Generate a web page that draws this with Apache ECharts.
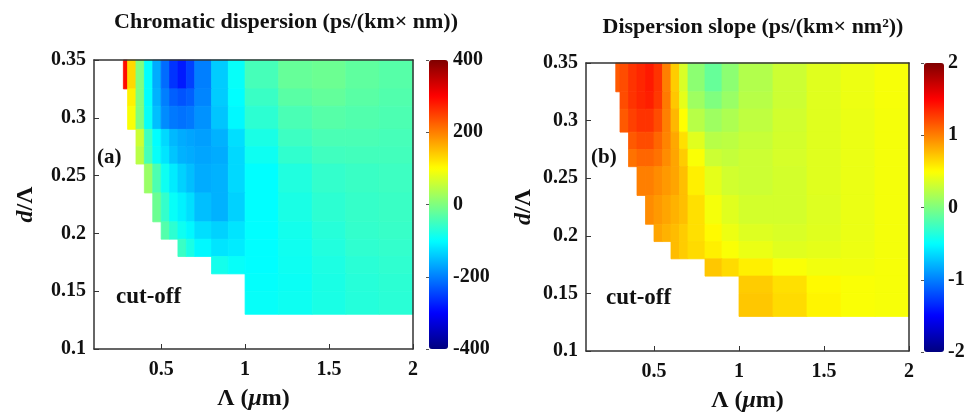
<!DOCTYPE html>
<html>
<head>
<meta charset="utf-8">
<script src="https://cdn.jsdelivr.net/npm/echarts@6/dist/echarts.min.js"></script>
<style>
  html, body { margin: 0; padding: 0; background: #fff; }
  #main { width: 974px; height: 418px; }
</style>
</head>
<body>
<div id="main"></div>
<script>
// cell edges: Λ (µm) across, d/Λ down (top row first)
var lamEdges = [0.275, 0.3, 0.35, 0.4, 0.45, 0.5, 0.55, 0.6, 0.65, 0.7, 0.8, 0.9, 1.0, 1.2, 1.4, 1.6, 1.8, 2.0];
var dEdges = [0.35, 0.325, 0.31, 0.29, 0.275, 0.26, 0.235, 0.21, 0.195, 0.18, 0.165, 0.15, 0.13];
var xTicks = [0.5, 1, 1.5, 2];
var _ = null; // cut-off cell

// chromatic dispersion, ps/(km nm)
var dispersion = [
  [290, 130, 0, -100, -165, -215, -260, -280, -250, -200, -140, -95, -45, -20, -15, -25, -32],
  [_, 110, 0, -100, -160, -200, -225, -235, -225, -195, -140, -100, -55, -30, -22, -30, -36],
  [_, 95, 0, -95, -150, -190, -205, -210, -205, -185, -145, -105, -65, -42, -32, -36, -40],
  [_, _, 60, -50, -100, -130, -155, -165, -170, -175, -160, -125, -80, -52, -42, -42, -45],
  [_, _, 45, -45, -95, -120, -145, -160, -165, -170, -165, -130, -90, -62, -50, -48, -48],
  [_, _, _, 20, -40, -90, -115, -135, -150, -165, -160, -130, -100, -75, -60, -55, -52],
  [_, _, _, _, -15, -60, -95, -110, -125, -150, -160, -135, -100, -80, -65, -58, -55],
  [_, _, _, _, _, -35, -65, -90, -105, -125, -135, -120, -100, -85, -70, -60, -57],
  [_, _, _, _, _, _, _, -55, -80, -105, -120, -115, -100, -88, -74, -63, -60],
  [_, _, _, _, _, _, _, _, _, _, -85, -95, -100, -90, -78, -68, -63],
  [_, _, _, _, _, _, _, _, _, _, _, _, -98, -92, -80, -70, -66],
  [_, _, _, _, _, _, _, _, _, _, _, _, -95, -90, -80, -72, -68]
];

// dispersion slope, ps/(km nm^2)
var slope = [
  [1.15, 1.2, 1.3, 1.35, 1.4, 1.3, 1.0, 0.7, 0.35, 0.05, -0.1, 0.05, 0.2, 0.3, 0.38, 0.43, 0.47],
  [_, 1.2, 1.3, 1.35, 1.38, 1.28, 1.02, 0.72, 0.4, 0.12, 0.0, 0.1, 0.22, 0.3, 0.38, 0.43, 0.47],
  [_, 1.15, 1.25, 1.3, 1.3, 1.2, 1.0, 0.78, 0.5, 0.22, 0.12, 0.18, 0.25, 0.32, 0.38, 0.42, 0.46],
  [_, _, 1.15, 1.2, 1.2, 1.1, 0.98, 0.84, 0.62, 0.38, 0.22, 0.24, 0.28, 0.33, 0.38, 0.42, 0.46],
  [_, _, 1.05, 1.1, 1.1, 1.05, 0.95, 0.85, 0.7, 0.48, 0.3, 0.27, 0.3, 0.34, 0.38, 0.42, 0.46],
  [_, _, _, 1.0, 1.0, 0.95, 0.9, 0.85, 0.75, 0.56, 0.4, 0.32, 0.3, 0.33, 0.38, 0.42, 0.46],
  [_, _, _, _, 0.95, 0.9, 0.85, 0.8, 0.75, 0.62, 0.46, 0.38, 0.33, 0.33, 0.37, 0.42, 0.46],
  [_, _, _, _, _, 0.85, 0.8, 0.76, 0.7, 0.62, 0.52, 0.43, 0.37, 0.35, 0.38, 0.42, 0.46],
  [_, _, _, _, _, _, _, 0.76, 0.7, 0.64, 0.56, 0.48, 0.42, 0.38, 0.4, 0.43, 0.46],
  [_, _, _, _, _, _, _, _, _, _, 0.72, 0.64, 0.56, 0.48, 0.45, 0.45, 0.47],
  [_, _, _, _, _, _, _, _, _, _, _, _, 0.7, 0.62, 0.52, 0.48, 0.47],
  [_, _, _, _, _, _, _, _, _, _, _, _, 0.72, 0.64, 0.54, 0.48, 0.47]
];

var jet = ['#00007f', '#0000ff', '#007fff', '#00ffff', '#7fff7f', '#ffff00', '#ff7f00', '#ff0000', '#7f0000'];
var fontFam = 'Liberation Serif';
var ink = '#111';

function buildCells(rows) {
  var cells = [];
  rows.forEach(function (row, j) {
    row.forEach(function (v, i) {
      if (v === null) return;
      cells.push([lamEdges[i], lamEdges[i + 1], dEdges[j + 1], dEdges[j], v]);
    });
  });
  return cells;
}

function renderCell(params, api) {
  var p0 = api.coord([api.value(0), api.value(3)]);
  var p1 = api.coord([api.value(1), api.value(2)]);
  var color = api.visual('color');
  return {
    type: 'rect',
    shape: { x: p0[0], y: p0[1], width: p1[0] - p0[0], height: p1[1] - p0[1] },
    style: { fill: color, stroke: color, lineWidth: 0.8 }
  };
}

function tickFont(size) {
  return { color: ink, fontFamily: fontFam, fontWeight: 'bold', fontSize: size };
}

var axisLine = { show: true, lineStyle: { color: '#333', width: 1.5 } };
var nameRich = {
  t: tickFont(24),
  i: { color: ink, fontFamily: fontFam, fontWeight: 'bold', fontStyle: 'italic', fontSize: 24 }
};

function bottomAxis(g) {
  return {
    gridIndex: g, type: 'value', min: 0.1, max: 2, z: 5,
    name: '{t|Λ (}{i|μ}{t|m)}', nameLocation: 'middle', nameGap: 38,
    nameTextStyle: { rich: nameRich },
    axisLine: axisLine,
    axisTick: { show: true, inside: true, length: 5, customValues: xTicks, lineStyle: { color: '#333' } },
    axisLabel: Object.assign({ margin: 11, customValues: xTicks }, tickFont(20)),
    splitLine: { show: false }
  };
}

function topAxis(g) {
  return {
    gridIndex: g, type: 'value', position: 'top', min: 0.1, max: 2, z: 5,
    axisLine: axisLine, axisTick: { show: false }, axisLabel: { show: false }, splitLine: { show: false }
  };
}

function leftAxis(g, gap) {
  return {
    gridIndex: g, type: 'value', min: 0.1, max: 0.35, interval: 0.05, z: 5,
    name: '{i|d}{t|/Λ}', nameLocation: 'middle', nameGap: gap, nameRotate: 90,
    nameTextStyle: { rich: nameRich },
    axisLine: axisLine,
    axisTick: { show: true, inside: true, length: 5, lineStyle: { color: '#333' } },
    axisLabel: Object.assign({ margin: 8 }, tickFont(20)),
    splitLine: { show: false }
  };
}

function rightAxis(g) {
  return {
    gridIndex: g, type: 'value', position: 'right', min: 0.1, max: 0.35, z: 5,
    axisLine: axisLine, axisTick: { show: false }, axisLabel: { show: false }, splitLine: { show: false }
  };
}

function barAxis(g, lo, hi, step, margin) {
  return {
    gridIndex: g, type: 'value', position: 'right', min: lo, max: hi, interval: step, z: 5,
    axisLine: { show: false },
    axisTick: { show: true, inside: true, length: 3, lineStyle: { color: '#555' } },
    axisLabel: Object.assign({ margin: margin }, tickFont(20)),
    splitLine: { show: false }
  };
}

var chart = echarts.init(document.getElementById('main'));
var option = {
  animation: false,
  backgroundColor: '#fff',
  grid: [
    { left: 94, top: 60, width: 319, height: 289 },
    { left: 586, top: 63, width: 323, height: 289 },
    { left: 429, top: 60, width: 19, height: 289 },
    { left: 924, top: 63, width: 20, height: 289 }
  ],
  xAxis: [
    bottomAxis(0), bottomAxis(1), topAxis(0), topAxis(1),
    { gridIndex: 2, type: 'value', show: false },
    { gridIndex: 3, type: 'value', show: false }
  ],
  yAxis: [
    leftAxis(0, 56), leftAxis(1, 50), rightAxis(0), rightAxis(1),
    barAxis(2, -400, 400, 200, 5),
    barAxis(3, -2, 2, 1, 4)
  ],
  visualMap: [
    {
      type: 'continuous', seriesIndex: 0, dimension: 4, min: -400, max: 400,
      left: 429, top: 60, itemWidth: 19, itemHeight: 289, padding: 0,
      calculable: false, hoverLink: false, inRange: { color: jet }
    },
    {
      type: 'continuous', seriesIndex: 1, dimension: 4, min: -2, max: 2,
      left: 924, top: 63, itemWidth: 20, itemHeight: 289, padding: 0,
      calculable: false, hoverLink: false, inRange: { color: jet }
    }
  ],
  graphic: [
    { type: 'text', x: 286, y: 22, style: { text: 'Chromatic dispersion (ps/(km× nm))', font: 'bold 22px "Liberation Serif"', fill: ink, textAlign: 'center', textVerticalAlign: 'middle' } },
    { type: 'text', x: 753, y: 27, style: { text: 'Dispersion slope (ps/(km× nm²))', font: 'bold 22px "Liberation Serif"', fill: ink, textAlign: 'center', textVerticalAlign: 'middle' } },
    { type: 'text', x: 97, y: 158, z: 10, style: { text: '(a)', font: 'bold 21px "Liberation Serif"', fill: ink, textVerticalAlign: 'middle' } },
    { type: 'text', x: 591, y: 158, z: 10, style: { text: '(b)', font: 'bold 21px "Liberation Serif"', fill: ink, textVerticalAlign: 'middle' } },
    { type: 'text', x: 116, y: 297, z: 10, style: { text: 'cut-off', font: 'bold 23px "Liberation Serif"', fill: ink, textVerticalAlign: 'middle' } },
    { type: 'text', x: 606, y: 298, z: 10, style: { text: 'cut-off', font: 'bold 23px "Liberation Serif"', fill: ink, textVerticalAlign: 'middle' } }
  ],
  series: [
    {
      name: 'dispersion', type: 'custom', xAxisIndex: 0, yAxisIndex: 0, z: 1, silent: true,
      renderItem: renderCell, encode: { x: [0, 1], y: [2, 3] }, data: buildCells(dispersion)
    },
    {
      name: 'slope', type: 'custom', xAxisIndex: 1, yAxisIndex: 1, z: 1, silent: true,
      renderItem: renderCell, encode: { x: [0, 1], y: [2, 3] }, data: buildCells(slope)
    }
  ]
};
chart.setOption(option);
</script>
</body>
</html>
